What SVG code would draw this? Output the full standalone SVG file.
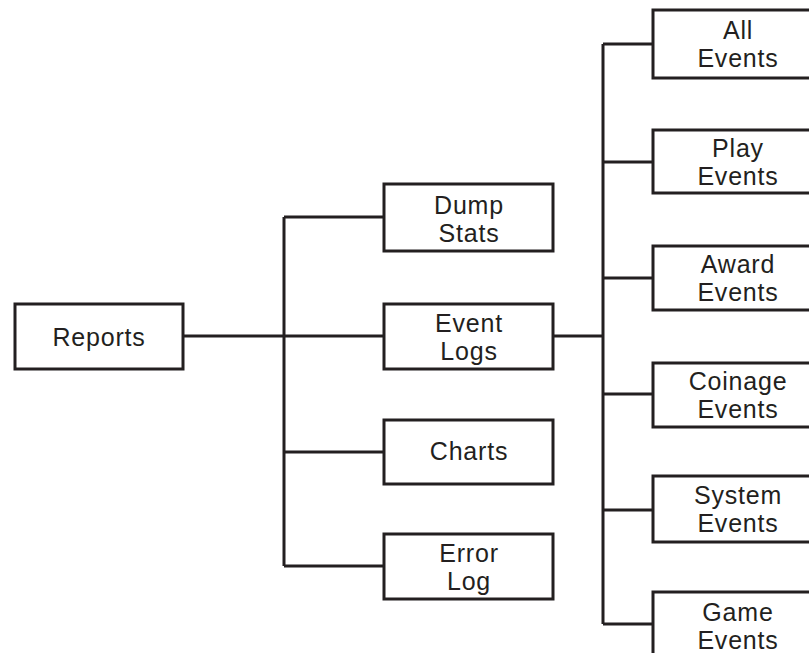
<svg xmlns="http://www.w3.org/2000/svg" width="809" height="653" viewBox="0 0 809 653">
  <style>
    .box { fill: #ffffff; stroke: #231f20; stroke-width: 3; }
    .wire { fill: none; stroke: #231f20; stroke-width: 3; }
    .lbl { font-family: "Liberation Sans", Arial, sans-serif; font-size: 25px; letter-spacing: 0.8px; fill: #231f20; text-anchor: middle; }
  </style>
  <rect width="809" height="653" fill="#ffffff"/>

  <!-- connectors -->
  <g id="connectors" class="wire">
    <path d="M183 336 H284"/>
    <path d="M284 217 V566"/>
    <path d="M284 217 H384 M284 336 H384 M284 452 H384 M284 566 H384"/>
    <path d="M553 336 H603"/>
    <path d="M603 44 V624"/>
    <path d="M603 44 H653 M603 162 H653 M603 278 H653 M603 394 H653 M603 510 H653 M603 624 H653"/>
  </g>

  <!-- root -->
  <g id="reports">
    <rect class="box" x="15" y="304" width="168" height="65"/>
    <text class="lbl" x="99" y="346">Reports</text>
  </g>

  <!-- second level -->
  <g id="dump-stats">
    <rect class="box" x="384" y="184" width="169" height="67"/>
    <text class="lbl" x="469" y="214">Dump</text>
    <text class="lbl" x="469" y="242">Stats</text>
  </g>
  <g id="event-logs">
    <rect class="box" x="384" y="304" width="169" height="65"/>
    <text class="lbl" x="469" y="332">Event</text>
    <text class="lbl" x="469" y="360">Logs</text>
  </g>
  <g id="charts">
    <rect class="box" x="384" y="420" width="169" height="64"/>
    <text class="lbl" x="469" y="460">Charts</text>
  </g>
  <g id="error-log">
    <rect class="box" x="384" y="534" width="169" height="65"/>
    <text class="lbl" x="469" y="562">Error</text>
    <text class="lbl" x="469" y="590">Log</text>
  </g>

  <!-- event log categories -->
  <g id="all-events">
    <rect class="box" x="653" y="10" width="170" height="68"/>
    <text class="lbl" x="738" y="39">All</text>
    <text class="lbl" x="738" y="67">Events</text>
  </g>
  <g id="play-events">
    <rect class="box" x="653" y="130" width="170" height="63"/>
    <text class="lbl" x="738" y="157">Play</text>
    <text class="lbl" x="738" y="185">Events</text>
  </g>
  <g id="award-events">
    <rect class="box" x="653" y="246" width="170" height="64"/>
    <text class="lbl" x="738" y="273">Award</text>
    <text class="lbl" x="738" y="301">Events</text>
  </g>
  <g id="coinage-events">
    <rect class="box" x="653" y="363" width="170" height="64"/>
    <text class="lbl" x="738" y="390">Coinage</text>
    <text class="lbl" x="738" y="418">Events</text>
  </g>
  <g id="system-events">
    <rect class="box" x="653" y="476" width="170" height="66"/>
    <text class="lbl" x="738" y="504">System</text>
    <text class="lbl" x="738" y="532">Events</text>
  </g>
  <g id="game-events">
    <rect class="box" x="653" y="592" width="170" height="68"/>
    <text class="lbl" x="738" y="621">Game</text>
    <text class="lbl" x="738" y="649">Events</text>
  </g>
</svg>
